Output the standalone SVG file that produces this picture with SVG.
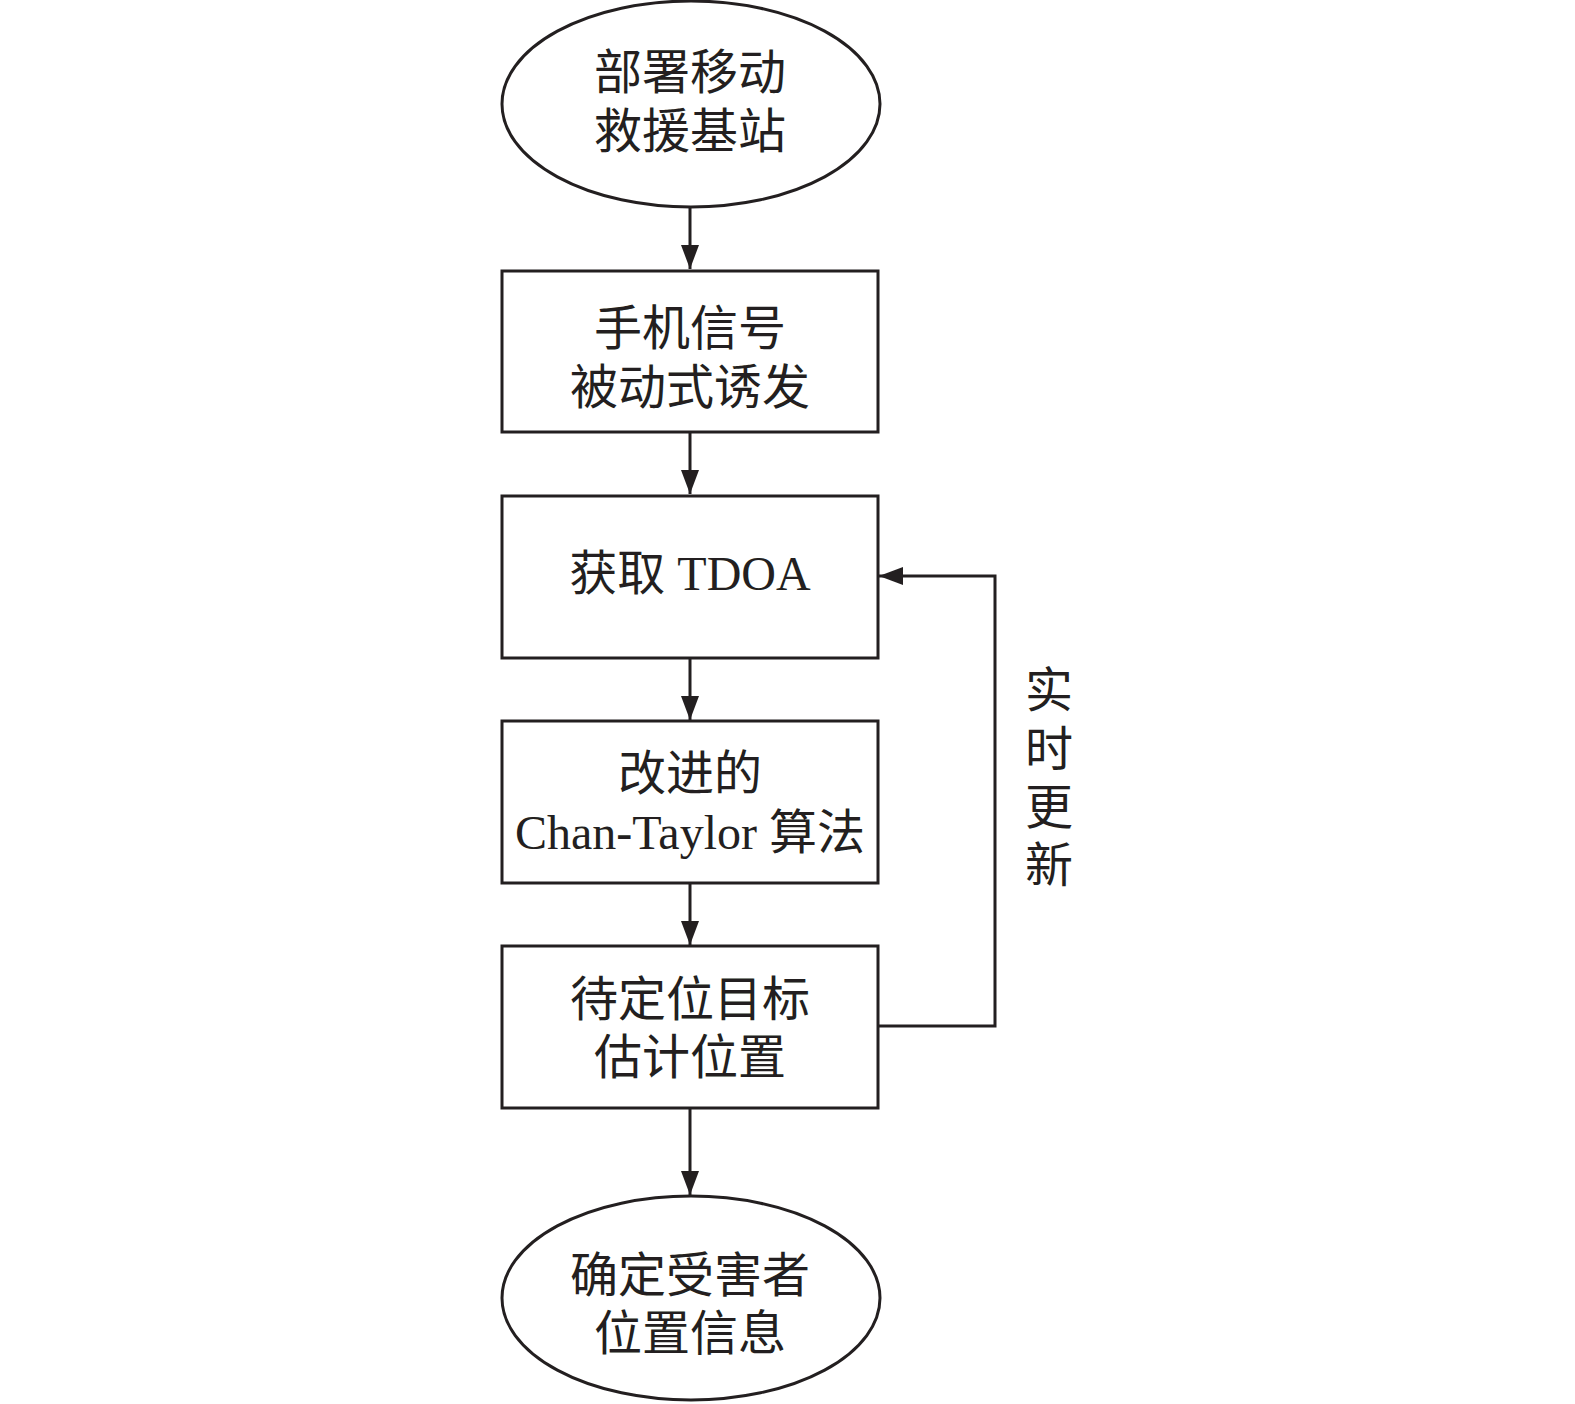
<svg xmlns="http://www.w3.org/2000/svg" width="1575" height="1404" viewBox="0 0 1575 1404">
<style>
.n{fill:#fff;stroke:#231f20;stroke-width:3}
.t{font-family:"Liberation Serif","Noto Sans CJK SC",serif;font-size:48px;fill:#231f20;text-anchor:middle;dominant-baseline:central}
.c{fill:none;stroke:#231f20;stroke-width:3}
</style>
<defs>
<marker id="a" markerWidth="24" markerHeight="18" refX="24" refY="9" orient="auto" markerUnits="userSpaceOnUse">
<path d="M0,0 L24,9 L0,18 Z" fill="#231f20"/>
</marker>
</defs>
<rect width="1575" height="1404" fill="#fff"/>
<g id="connectors">
<line class="c" x1="690" y1="207" x2="690" y2="269" marker-end="url(#a)"/>
<line class="c" x1="690" y1="433" x2="690" y2="494" marker-end="url(#a)"/>
<line class="c" x1="690" y1="658" x2="690" y2="720" marker-end="url(#a)"/>
<line class="c" x1="690" y1="883" x2="690" y2="945" marker-end="url(#a)"/>
<line class="c" x1="690" y1="1108" x2="690" y2="1195" marker-end="url(#a)"/>
<polyline class="c" points="878,1026 995,1026 995,576 879,576" marker-end="url(#a)"/>
<text x="1049" y="690" class="t">实</text>
<text x="1049" y="749" class="t">时</text>
<text x="1049" y="807" class="t">更</text>
<text x="1049" y="865" class="t">新</text>
</g>
<g id="start">
<ellipse class="n" cx="691" cy="104" rx="189" ry="103"/>
<text class="t" x="690" y="72">部署移动</text>
<text class="t" x="690" y="131">救援基站</text>
</g>
<g id="trigger">
<rect class="n" x="502" y="271" width="376" height="161"/>
<text class="t" x="690" y="328">手机信号</text>
<text class="t" x="690" y="387">被动式诱发</text>
</g>
<g id="tdoa">
<rect class="n" x="502" y="496" width="376" height="162"/>
<text class="t" x="690" y="573">获取 TDOA</text>
</g>
<g id="algo">
<rect class="n" x="502" y="721" width="376" height="162"/>
<text class="t" x="690" y="773">改进的</text>
<text class="t" x="690" y="832">Chan-Taylor 算法</text>
</g>
<g id="estimate">
<rect class="n" x="502" y="946" width="376" height="162"/>
<text class="t" x="690" y="999">待定位目标</text>
<text class="t" x="690" y="1057">估计位置</text>
</g>
<g id="end">
<ellipse class="n" cx="691" cy="1298" rx="189" ry="102"/>
<text class="t" x="690" y="1275">确定受害者</text>
<text class="t" x="690" y="1333">位置信息</text>
</g>
</svg>
